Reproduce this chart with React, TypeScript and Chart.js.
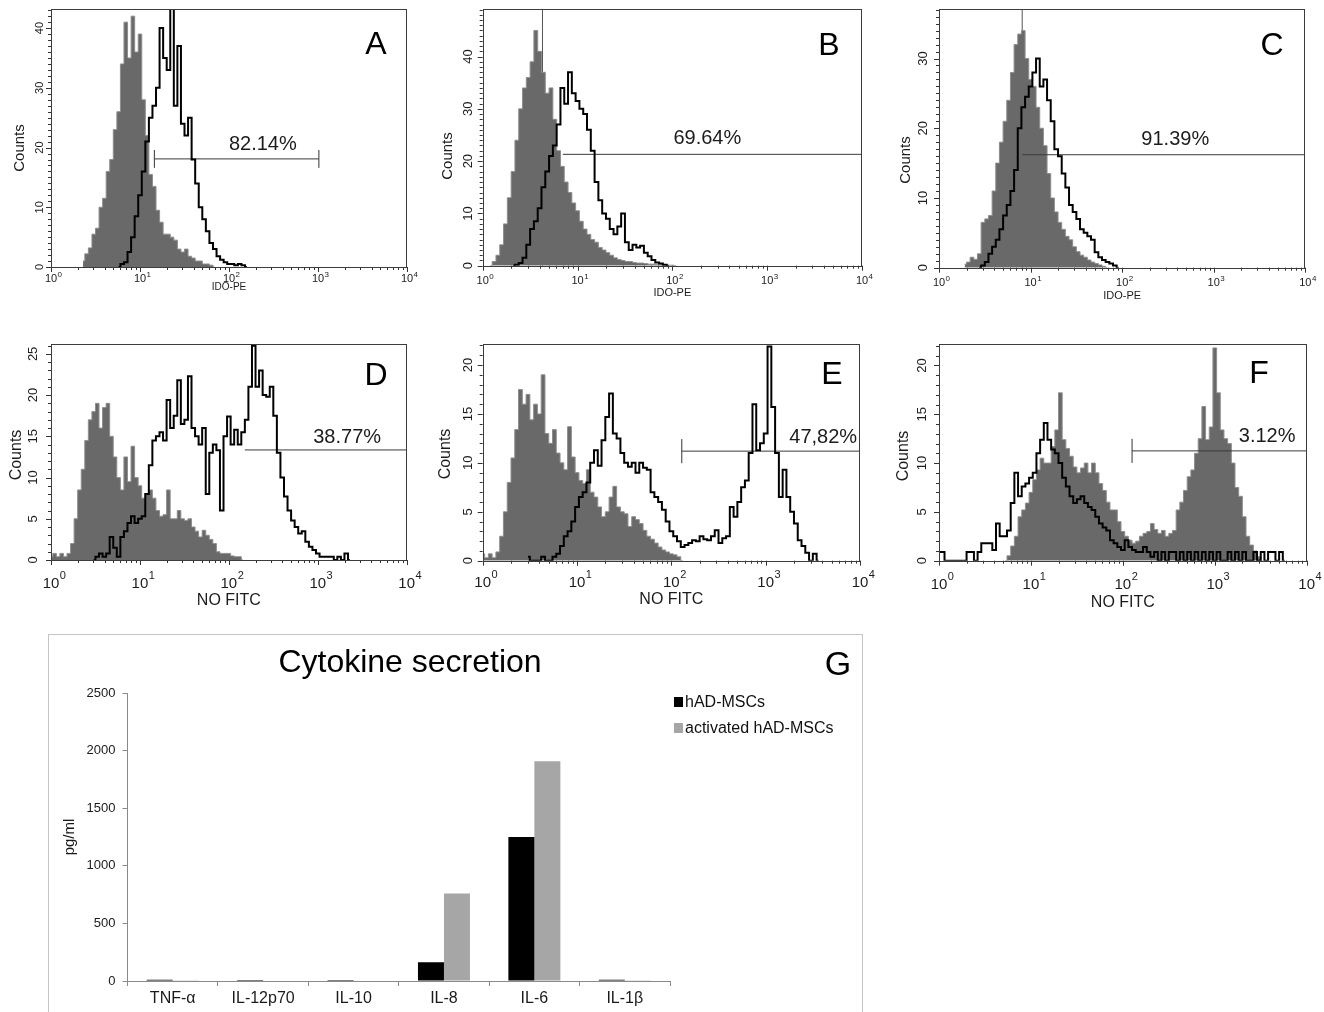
import React, { useEffect, useRef } from 'react';
import { Chart, registerables } from 'chart.js';

Chart.register(...registerables);

const FONT = "'Liberation Sans', Arial, Helvetica, sans-serif";
const BIN = 0.04; // histogram channel width in log10 units

// ---------- Panel A (IDO-PE) ----------
const aGrayStart = 0.36;
const aGray = [1, 2.2, 3.2, 5.5, 6.5, 10, 11.5, 16, 18, 23, 26, 34, 41, 35, 42, 36, 39, 28, 22, 15.5, 13.5, 9.5, 7.5, 5.5, 5.5, 5, 4.5, 3, 2.5, 3, 1.8, 1.5, 1, 1, 0.5, 0.5, 0.3, 0];
const aBlackStart = 0.76;
const aBlack = [0, 0.5, 0.8, 2.5, 5, 8.5, 12, 16, 21, 25, 27, 30, 40, 35, 33, 43.5, 27, 37, 24, 22, 25, 18, 14, 10, 8, 6, 4, 3, 1.8, 1.2, 0.8, 0.5, 0.5, 0.3, 0.5, 0.3, 0];

// ---------- Panel B (IDO-PE) ----------
const bGrayStart = 0.08;
const bGray = [0, 0.8, 2, 4, 8, 13, 18, 24, 30, 34, 36, 39, 45, 41, 37, 33, 34, 28, 22, 19, 16, 14, 12, 10.5, 8.5, 7, 6, 5, 4.5, 3.5, 3, 2.5, 2, 1.5, 1.2, 1, 0.8, 0.8, 0.6, 0.5, 0.5, 0.4, 0.3, 0.3, 0.2, 0.2, 0.2, 0.1, 0.1, 0];
const bBlackStart = 0.32;
const bBlack = [0, 0.2, 0.5, 1.5, 4, 7, 8.5, 11, 15, 18, 21, 23, 27, 34, 31, 37, 33, 31.5, 30, 29, 26, 22, 16, 12.5, 10, 9, 7, 6, 7.5, 10, 4.5, 3, 4, 3.5, 3.8, 2.5, 1.8, 1.1, 0.6, 0.4, 0.2, 0];

// ---------- Panel C (IDO-PE) ----------
const cGrayStart = 0.28;
const cGray = [0.5, 0.8, 1.5, 1.2, 2, 6.5, 7, 7.5, 11, 15, 18, 21, 24, 28, 32, 33.5, 34, 30, 27, 26, 23, 20, 17.5, 13.5, 10, 8, 6.5, 5.5, 4.5, 4, 3, 2.3, 1.8, 1.5, 1.1, 0.8, 0.6, 0.4, 0.2, 0];
const cBlackStart = 0.44;
const cBlack = [0, 0.3, 0.8, 2, 3, 4, 5.5, 7.5, 9, 11, 14, 20, 23, 24.5, 26, 28, 30, 26, 27, 24, 21, 17, 16, 13.5, 11.5, 9, 8, 7, 5.5, 5, 4.5, 4, 2.2, 1.5, 1.1, 0.8, 0.6, 0.3, 0];

// ---------- Panel D (NO FITC) ----------
const dGrayStart = 0;
const dGray = [0.4, 0.8, 0.4, 0.8, 0.4, 0.8, 2, 5, 8.5, 11, 14.5, 17, 18, 19, 16, 18.5, 19, 15, 12.5, 10, 8.5, 12.5, 9.5, 13.8, 10, 9, 7.5, 8, 8.5, 7.5, 6, 5.3, 5.5, 8.5, 5, 5, 6, 5, 4.8, 5, 4, 3.5, 2.8, 3.6, 3, 2.5, 2, 1, 0.8, 0.8, 0.8, 0.5, 0.4, 0.4, 0];
const dBlackStart = 0.48;
const dBlack = [0, 0.4, 0.8, 0.4, 0.8, 2.8, 1.5, 0.4, 2.8, 3.5, 4.5, 5.3, 4.5, 5, 5.3, 8, 11.5, 14.5, 15, 15.5, 14.5, 19.4, 16, 17.5, 21.8, 16.5, 17, 22.3, 16, 15, 14, 16, 8, 13, 14, 13.3, 6, 15, 17.4, 14, 15.8, 14, 15.5, 17, 21, 26, 21, 23, 20, 19.8, 21, 17.5, 13, 10, 7.7, 6, 4.8, 4, 3.2, 3.5, 2.2, 1.6, 1.2, 0.8, 0.4, 0.4, 0.4, 0.4, 0, 0.4, 0, 0.8, 0];

// ---------- Panel E (NO FITC) ----------
const eGrayStart = 0;
const eGray = [0.7, 0.3, 0.7, 0.3, 0.9, 2.5, 5, 8, 10.5, 13.4, 17.5, 16, 17, 14.4, 16, 15, 19, 13, 12, 13.4, 11, 10, 9.3, 13.7, 10.6, 9, 8.2, 7.9, 9.3, 7, 6.5, 5.5, 4.5, 5, 6.5, 7.6, 5.5, 5, 4.8, 3.5, 4.5, 4.2, 3.8, 3.1, 2.5, 2.2, 1.8, 1.4, 1.1, 0.9, 0.7, 0.6, 0.4, 0];
const eBlackStart = 0.48;
const eBlack = [0.4, 0, 0, 0, 0.4, 0, 0, 0.4, 0.7, 1.5, 2.5, 3, 4, 5.5, 6.5, 7, 8, 10, 11.3, 9.7, 12.3, 14.7, 17.1, 13, 12.5, 11, 10, 9.6, 10, 9, 10, 9.5, 9.3, 7, 6.5, 6, 5.2, 4, 3, 2.5, 2, 1.4, 1.6, 1.8, 2.1, 2, 2.5, 2.2, 2.1, 2.5, 3.1, 1.8, 2.3, 2.5, 5.5, 4.5, 6, 7.5, 8.2, 11, 16, 11.3, 12, 13, 21.9, 15.7, 11, 6.5, 9.3, 6.5, 5, 3.8, 2.1, 1.5, 0.8, 0, 0.7, 0];

// ---------- Panel F (NO FITC) ----------
const fGrayStart = 0.72;
const fGray = [0, 0.5, 1.5, 2.5, 4.5, 5.2, 5.9, 7, 8.3, 9.3, 10.5, 10, 10, 11.7, 13.4, 17.2, 12.4, 11.5, 10.7, 9.6, 9, 9.5, 10, 9, 10, 9, 7.9, 7.2, 6, 5.2, 5.2, 4, 3, 2.5, 2.1, 1.8, 2, 2.5, 2.8, 3, 3.8, 3.2, 2.8, 3.1, 2.5, 2.8, 3.1, 5.2, 6, 7.2, 8.6, 9.3, 11, 12.5, 15.8, 12.4, 13.7, 21.8, 17.2, 13.4, 12.5, 12, 10, 7.5, 6.6, 4.5, 2.5, 1.6, 1, 0.4, 0];
const fBlackStart = 0;
const fBlack = [0.9, 0.9, 0, 0, 0, 0, 0, 0, 0.9, 0.9, 0, 0.9, 1.8, 1.8, 1.8, 1.1, 3.8, 2.5, 2.5, 3.1, 5.9, 9, 6.6, 7.6, 7.9, 8.5, 9, 11, 12.4, 14.1, 12.4, 11.4, 11, 10, 8.5, 7.6, 6.6, 5.9, 6.3, 6.6, 5.9, 5.5, 5.2, 4.5, 3.8, 3.4, 3.1, 2.1, 1.8, 1.4, 1.1, 2.1, 1.4, 1.1, 0.9, 0.9, 1.4, 0.9, 0.4, 0.9, 0, 0.9, 0, 0.9, 0.9, 0, 0.9, 0, 0.9, 0, 0.9, 0, 0.9, 0, 0.9, 0, 0.9, 0, 0, 0.9, 0, 0.9, 0, 0.9, 0, 0, 0.9, 0, 0.9, 0, 0.9, 0.9, 0, 0.9, 0];

// ---------- Axis tick labels ----------
const decadeExponents = [0, 1, 2, 3, 4];
const yLabelsIDO_A = [0, 10, 20, 30, 40];
const yLabelsIDO_B = [0, 10, 20, 30, 40];
const yLabelsIDO_C = [0, 10, 20, 30];
const yLabelsNO = [0, 5, 10, 15, 20, 25];
const yLabelsNO_EF = [0, 5, 10, 15, 20];

// ---------- Panel G (Cytokine secretion) ----------
const cytokines = ['TNF-α', 'IL-12p70', 'IL-10', 'IL-8', 'IL-6', 'IL-1β'];
const restingValues = [10, 8, 8, 162, 1251, 10];
const activatedValues = [6, 5, 5, 760, 1907, 6];
const cytoTicks = [0, 500, 1000, 1500, 2000, 2500];

type Fonts = { tick: number; sup: number; supRaise: number; title: number; yTick: number; counts: number; gate: number; letter: number };
type HistPanel = {
  key: string;
  letter: string;
  rect: number[]; // page box of the canvas: left, top, width, height
  area: number[]; // page plot box: left, top, right, bottom
  yMax: number;
  yLabels: number[];
  xTitle: string;
  grayStart: number;
  gray: number[];
  blackStart: number;
  black: number[];
  gate: { from: number; to: number; level: number; capL?: number; capR?: number };
  marker?: number;
  label: { text: string; x: number; dy: number };
  fonts: Fonts;
  tickY: number;
  titleY: number;
  yTickX: number;
  counts: number[];
  letterPos: number[];
};

const topFonts = (yTick: number, title: number): Fonts => ({ tick: 11, sup: 8, supRaise: 4, title, yTick, counts: 15, gate: 20, letter: 32 });
const botFonts: Fonts = { tick: 15, sup: 11, supRaise: 8, title: 16, yTick: 13, counts: 16, gate: 20, letter: 32 };

const panels: HistPanel[] = [
  {
    key: 'A', letter: 'A', rect: [0, 0, 440, 320], area: [51, 9, 407, 267], yMax: 43.2, yLabels: yLabelsIDO_A, xTitle: 'IDO-PE',
    grayStart: aGrayStart, gray: aGray, blackStart: aBlackStart, black: aBlack,
    gate: { from: 14.5, to: 1023, level: 18.1, capL: 1.5, capR: 1.5 },
    label: { text: '82.14%', x: 240, dy: 14 }, fonts: topFonts(11, 10), tickY: 12, titleY: 20, yTickX: 11,
    counts: [20, 148], letterPos: [376, 45],
  },
  {
    key: 'B', letter: 'B', rect: [425, 0, 455, 320], area: [482.7, 9, 862, 265.7], yMax: 49.1, yLabels: yLabelsIDO_B, xTitle: 'IDO-PE',
    grayStart: bGrayStart, gray: bGray, blackStart: bBlackStart, black: bBlack,
    gate: { from: 7.0, to: 10000, level: 21.3 }, marker: 4.27,
    label: { text: '69.64%', x: 234, dy: 16 }, fonts: topFonts(13, 11), tickY: 15, titleY: 27, yTickX: 14.7,
    counts: [448, 156], letterPos: [829, 46],
  },
  {
    key: 'C', letter: 'C', rect: [875, 0, 449, 320], area: [939, 9, 1305.3, 267.7], yMax: 37.1, yLabels: yLabelsIDO_C, xTitle: 'IDO-PE',
    grayStart: cGrayStart, gray: cGray, blackStart: cBlackStart, black: cBlack,
    gate: { from: 8.1, to: 10000, level: 16.2 }, marker: 8.1,
    label: { text: '91.39%', x: 380, dy: 15 }, fonts: topFonts(13, 11), tickY: 15, titleY: 28, yTickX: 16,
    counts: [906, 160], letterPos: [1272, 46],
  },
  {
    key: 'D', letter: 'D', rect: [0, 320, 440, 300], area: [51, 344, 406.7, 560], yMax: 26.2, yLabels: yLabelsNO, xTitle: 'NO FITC',
    grayStart: dGrayStart, gray: dGray, blackStart: dBlackStart, black: dBlack,
    gate: { from: 151, to: 10000, level: 13.35 },
    label: { text: '38.77%', x: 2138, dy: 12 }, fonts: botFonts, tickY: 24, titleY: 41, yTickX: 18,
    counts: [17, 455], letterPos: [376, 376],
  },
  {
    key: 'E', letter: 'E', rect: [425, 320, 455, 300], area: [482.7, 344, 860, 560.7], yMax: 22.15, yLabels: yLabelsNO_EF, xTitle: 'NO FITC',
    grayStart: eGrayStart, gray: eGray, blackStart: eBlackStart, black: eBlack,
    gate: { from: 129, to: 10000, level: 11.2, capL: 1.23 },
    label: { text: '47,82%', x: 4074, dy: 14 }, fonts: botFonts, tickY: 22, titleY: 39, yTickX: 14.7,
    counts: [446, 454], letterPos: [832, 375],
  },
  {
    key: 'F', letter: 'F', rect: [875, 320, 449, 300], area: [939, 344, 1306.7, 560.7], yMax: 22.2, yLabels: yLabelsNO_EF, xTitle: 'NO FITC',
    grayStart: fGrayStart, gray: fGray, blackStart: fBlackStart, black: fBlack,
    gate: { from: 126, to: 10000, level: 11.25, capL: 1.23 },
    label: { text: '3.12%', x: 3715, dy: 14 }, fonts: botFonts, tickY: 24, titleY: 42, yTickX: 17,
    counts: [904, 456], letterPos: [1259, 374],
  },
];

function toPoints(start: number, values: number[]) {
  return values.map((v, i) => ({ x: Math.pow(10, start + i * BIN), y: v }));
}

function histConfig(p: HistPanel): any {
  const [rl, rt, rw, rh] = p.rect;
  const [al, at, ar, ab] = p.area;
  const ink = '#1c1c1c';
  const lineDs = (data: any[], extra: any = {}) => ({
    data, borderColor: '#333', borderWidth: 1, pointRadius: 0, fill: false, tension: 0, ...extra,
  });

  const datasets: any[] = [
    {
      label: 'treated', data: toPoints(p.blackStart, p.black), stepped: 'middle', borderColor: '#000', borderWidth: 2,
      pointRadius: 0, fill: false, order: 0,
    },
    lineDs([{ x: p.gate.from, y: p.gate.level }, { x: p.gate.to, y: p.gate.level }], { order: 1, borderColor: '#3a3a3a' }),
    {
      label: 'control', data: toPoints(p.grayStart, p.gray), stepped: 'middle', borderColor: '#8e8e8e', borderWidth: 1,
      backgroundColor: '#696969', pointRadius: 0, fill: 'origin', order: 2,
    },
  ];
  if (p.gate.capL) {
    datasets.push(lineDs([{ x: p.gate.from, y: p.gate.level - p.gate.capL }, { x: p.gate.from, y: p.gate.level + p.gate.capL }], { order: 1 }));
  }
  if (p.gate.capR) {
    datasets.push(lineDs([{ x: p.gate.to, y: p.gate.level - p.gate.capR }, { x: p.gate.to, y: p.gate.level + p.gate.capR }], { order: 1 }));
  }
  if (p.marker) {
    datasets.push(lineDs([{ x: p.marker, y: 0 }, { x: p.marker, y: p.yMax }], { order: 3, borderColor: '#555' }));
  }

  const decor = {
    id: 'histDecor' + p.key,
    afterDraw(chart: any) {
      const ctx = chart.ctx as CanvasRenderingContext2D;
      const ca = chart.chartArea;
      const xs = chart.scales.x;
      const ys = chart.scales.y;
      const f = p.fonts;
      ctx.save();
      // tick marks
      ctx.strokeStyle = '#333';
      ctx.lineWidth = 1;
      ctx.beginPath();
      decadeExponents.forEach((k) => {
        const base = Math.pow(10, k);
        const px = Math.round(xs.getPixelForValue(base)) + 0.5;
        ctx.moveTo(px, ca.bottom);
        ctx.lineTo(px, ca.bottom + 5);
        if (k < 4) {
          for (let m = 2; m <= 9; m++) {
            const q = Math.round(xs.getPixelForValue(m * base)) + 0.5;
            ctx.moveTo(q, ca.bottom);
            ctx.lineTo(q, ca.bottom + 3);
          }
        }
      });
      for (let v = 0; v <= p.yMax; v += 1) {
        const py = Math.round(ys.getPixelForValue(v)) + 0.5;
        const len = p.yLabels.includes(v) ? 5 : 3;
        ctx.moveTo(ca.left, py);
        ctx.lineTo(ca.left - len, py);
      }
      ctx.stroke();
      // frame
      const L = Math.round(ca.left) + 0.5;
      const T = Math.round(ca.top) + 0.5;
      const R = Math.round(ca.right) - 0.5;
      const B = Math.round(ca.bottom) + 0.5;
      ctx.strokeStyle = '#3c3c3c';
      ctx.strokeRect(L, T, R - L, B - T);

      ctx.fillStyle = ink;
      // x tick labels 10^k
      decadeExponents.forEach((k) => {
        const px = xs.getPixelForValue(Math.pow(10, k));
        const cy = ca.bottom + p.tickY;
        ctx.font = `${f.tick}px ${FONT}`;
        ctx.textAlign = 'center';
        ctx.textBaseline = 'middle';
        const w = ctx.measureText('10').width;
        ctx.fillText('10', px, cy);
        ctx.font = `${f.sup}px ${FONT}`;
        ctx.textAlign = 'left';
        ctx.fillText(String(k), px + w / 2 + 0.5, cy - f.supRaise);
      });
      // x title
      ctx.font = `${f.title}px ${FONT}`;
      ctx.textAlign = 'center';
      ctx.textBaseline = 'middle';
      ctx.fillText(p.xTitle, (ca.left + ca.right) / 2, ca.bottom + p.titleY);
      // y tick labels (rotated)
      ctx.font = `${f.yTick}px ${FONT}`;
      p.yLabels.forEach((v) => {
        const py = ys.getPixelForValue(v);
        ctx.save();
        ctx.translate(ca.left - p.yTickX, py);
        ctx.rotate(-Math.PI / 2);
        ctx.textAlign = 'center';
        ctx.textBaseline = 'middle';
        ctx.fillText(String(v), 0, 0);
        ctx.restore();
      });
      // Counts
      ctx.save();
      ctx.translate(p.counts[0] - rl, p.counts[1] - rt);
      ctx.rotate(-Math.PI / 2);
      ctx.font = `${f.counts}px ${FONT}`;
      ctx.textAlign = 'center';
      ctx.textBaseline = 'middle';
      ctx.fillText('Counts', 0, 0);
      ctx.restore();
      // gate label
      ctx.font = `${f.gate}px ${FONT}`;
      ctx.textAlign = 'center';
      ctx.textBaseline = 'middle';
      ctx.fillText(p.label.text, xs.getPixelForValue(p.label.x), ys.getPixelForValue(p.gate.level) - p.label.dy);
      // panel letter
      ctx.font = `${f.letter}px ${FONT}`;
      ctx.fillStyle = '#000';
      ctx.fillText(p.letter, p.letterPos[0] - rl, p.letterPos[1] - rt);
      ctx.restore();
    },
  };

  return {
    type: 'line',
    data: { datasets },
    options: {
      responsive: false,
      animation: false,
      maintainAspectRatio: false,
      layout: { padding: { left: al - rl, top: at - rt, right: rl + rw - ar, bottom: rt + rh - ab } },
      plugins: { legend: { display: false }, tooltip: { enabled: false } },
      scales: {
        x: { type: 'logarithmic', min: 1, max: 10000, display: false },
        y: { type: 'linear', min: 0, max: p.yMax, display: false },
      },
    },
    plugins: [decor],
  };
}

function cytoConfig(): any {
  const rect = [40, 625, 830, 387];
  const decor = {
    id: 'cytoDecor',
    beforeDraw(chart: any) {
      const ctx = chart.ctx as CanvasRenderingContext2D;
      ctx.save();
      ctx.strokeStyle = '#c4c4c4';
      ctx.lineWidth = 1;
      ctx.strokeRect(48 - rect[0] + 0.5, 634 - rect[1] + 0.5, 814, 420);
      ctx.restore();
    },
    afterDraw(chart: any) {
      const ctx = chart.ctx as CanvasRenderingContext2D;
      ctx.save();
      ctx.fillStyle = '#000';
      ctx.textAlign = 'center';
      ctx.textBaseline = 'middle';
      ctx.font = `32px ${FONT}`;
      ctx.fillText('Cytokine secretion', 410 - rect[0], 663 - rect[1]);
      ctx.font = `34px ${FONT}`;
      ctx.fillText('G', 838 - rect[0], 666 - rect[1]);
      // legend
      ctx.textAlign = 'left';
      ctx.font = `16px ${FONT}`;
      chart.data.datasets.forEach((ds: any, i: number) => {
        const cy = 702 + i * 26 - rect[1];
        ctx.fillStyle = ds.backgroundColor;
        ctx.fillRect(674 - rect[0], cy - 5, 9, 10);
        ctx.fillStyle = '#111';
        ctx.fillText(ds.label, 685 - rect[0], cy + 1);
      });
      ctx.restore();
    },
  };
  return {
    type: 'bar',
    data: {
      labels: cytokines,
      datasets: [
        { label: 'hAD-MSCs', data: restingValues, backgroundColor: '#000000', categoryPercentage: 0.575, barPercentage: 1 },
        { label: 'activated hAD-MSCs', data: activatedValues, backgroundColor: '#a6a6a6', categoryPercentage: 0.575, barPercentage: 1 },
      ],
    },
    options: {
      responsive: false,
      animation: false,
      maintainAspectRatio: false,
      layout: { padding: { left: 17, top: 68, right: 200, bottom: 0 } },
      plugins: { legend: { display: false }, tooltip: { enabled: false }, title: { display: false } },
      scales: {
        x: {
          grid: { display: true, drawOnChartArea: false, tickLength: 5, color: '#8a8a8a', offset: true },
          border: { color: '#8a8a8a' },
          ticks: { font: { size: 16, family: FONT }, color: '#1a1a1a', padding: 3, maxRotation: 0, autoSkip: false },
          afterFit: (s: any) => { s.height = 31; },
        },
        y: {
          min: 0,
          max: 2500,
          afterBuildTicks: (s: any) => { s.ticks = cytoTicks.map((v) => ({ value: v })); },
          grid: { display: true, drawOnChartArea: false, tickLength: 5, color: '#8a8a8a' },
          border: { color: '#8a8a8a' },
          ticks: { font: { size: 13, family: FONT }, color: '#1a1a1a', padding: 7, callback: (v: any) => String(v) },
          title: { display: true, text: 'pg/ml', font: { size: 15, family: FONT }, color: '#1a1a1a', padding: { top: 4, bottom: 4 } },
          afterFit: (s: any) => { s.width = 70.5; },
        },
      },
    },
    plugins: [decor],
  };
}

function ChartBox({ rect, make }: { rect: number[]; make: () => any }) {
  const ref = useRef<HTMLCanvasElement | null>(null);
  useEffect(() => {
    const chart = new Chart(ref.current as HTMLCanvasElement, make());
    return () => chart.destroy();
  }, []);
  return (
    <canvas
      ref={ref}
      width={rect[2]}
      height={rect[3]}
      style={{ position: 'absolute', left: rect[0], top: rect[1], width: rect[2], height: rect[3] }}
    />
  );
}

export default function App() {
  return (
    <div style={{ position: 'absolute', left: 0, top: 0, width: 1324, height: 1012, background: '#fff', overflow: 'hidden' }}>
      {panels.map((p) => (
        <ChartBox key={p.key} rect={p.rect} make={() => histConfig(p)} />
      ))}
      <ChartBox rect={[40, 625, 830, 387]} make={cytoConfig} />
    </div>
  );
}
